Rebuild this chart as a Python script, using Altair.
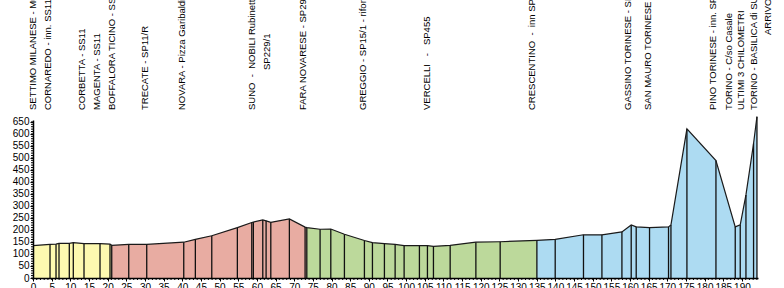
import altair as alt
import pandas as pd

# Profile waypoints (km, altitude m)
km = [0, 4.56, 6.17, 6.97, 9.73, 10.80, 13.67, 17.96, 20.64, 21.10, 25.66, 30.48,
      40.40, 43.51, 47.91, 54.77, 58.63, 59.06, 61.58, 62.47, 63.73, 68.71, 72.92,
      73.38, 76.94, 79.81, 83.46, 88.82, 90.97, 94.18, 97.05, 99.46, 103.56, 105.71,
      107.32, 111.80, 118.69, 125.20, 135.04, 139.95, 147.53, 152.47, 157.83, 160.32,
      161.66, 165.23, 170.32, 170.97, 175.25, 183.03, 188.20, 189.54, 191.07, 193.11,
      194.02]
elev = [135, 140, 141, 144, 144, 147, 143, 143, 141, 136, 140, 140,
        149, 161, 176, 210, 231, 233, 242, 238, 232, 246, 212,
        210, 203, 204, 182, 156, 147, 143, 140, 135, 135, 135,
        132, 136, 149, 151, 157, 161, 180, 180, 192, 221,
        213, 210, 213, 221, 621, 489, 213, 221, 346, 560,
        672]

seg_names = ["Lombardia", "Novara", "Vercelli", "Torino"]
seg_start = [0, 21.10, 73.38, 135.04]
seg_end = [21.10, 73.38, 135.04, 194.02]
seg_colors = ["#FDF9B0", "#E8ACA2", "#BCD99B", "#ADDBF2"]

NB = "\u00a0"
label_km = [0.0, 4.0, 13.1, 17.2, 21.2, 30.0, 39.9, 58.7, 72.4, 88.5, 105.6,
            133.8, 159.5, 164.9, 182.3, 186.6, 189.8, 193.2]
label_text = [
    "SETTIMO MILANESE - Municipio",
    "CORNAREDO - inn. SS11",
    "CORBETTA - SS11",
    "MAGENTA - SS11",
    "BOFFALORA TICINO - SS11",
    "TRECATE - SP11/R",
    "NOVARA - Pizza Garibaldi",
    "SUNO" + NB + " - " + NB + "NOBILI Rubinetterie",
    "FARA NOVARESE - SP299",
    "GREGGIO - SP15/1 - rifornimento",
    "VERCELLI" + NB * 2 + " - " + NB * 2 + "SP455",
    "CRESCENTINO" + NB + " - " + NB + "inn SP31bis",
    "GASSINO TORINESE - SP590",
    "SAN MAURO TORINESE - SP590",
    "PINO TORINESE - inn. SP10",
    "TORINO - C/so Casale",
    "ULTIMI 3 CHILOMETRI",
    "TORINO - BASILICA di SUPERGA",
]
label2_km = [62.7]
label2_text = ["SP229/1"]
label3_km = [197.1]
label3_text = ["ARRIVO"]

x_ticks = list(range(0, 195, 5))
x_minor = list(range(0, 195))
y_ticks = list(range(0, 651, 50))
y_minor = list(range(0, 651, 10))

W, H = 725, 158
FONT = "Liberation Sans"
LFONT = "Liberation Sans Narrow, Arial Narrow, Liberation Sans, sans-serif"

xscale = alt.Scale(domain=[0, 194.3], nice=False, zero=False)
yscale = alt.Scale(domain=[0, 658], nice=False, zero=False)
xaxis = alt.Axis(values=x_ticks, title=None, grid=False, labelOverlap=False,
                 labelFlush=False, tickSize=3, labelPadding=1, labelFontSize=10,
                 labelFont=FONT, labelColor="black", domainColor="black",
                 tickColor="black", domainWidth=1.5, zindex=2)
yaxis = alt.Axis(values=y_ticks, title=None, grid=False, labelOverlap=False,
                 labelFlush=False, tickSize=3, labelPadding=1, labelFontSize=10,
                 labelFont=FONT, labelColor="black", domainColor="black",
                 tickColor="black", domainWidth=1.5, zindex=2)

prof = pd.DataFrame({"km": km, "elev": elev})
rows = []
for name, s, e in zip(seg_names, seg_start, seg_end):
    for k, v in zip(km, elev):
        if s - 1e-9 <= k <= e + 1e-9:
            rows.append({"km": k, "elev": v, "seg": name})
area_df = pd.DataFrame(rows)

X = lambda f: alt.X(f, scale=xscale, axis=xaxis)
Y = lambda f: alt.Y(f, scale=yscale, axis=yaxis, stack=None)

area = alt.Chart(area_df).mark_area(opacity=1).encode(
    x=X("km:Q"), y=Y("elev:Q"),
    color=alt.Color("seg:N", scale=alt.Scale(domain=seg_names, range=seg_colors), legend=None),
)
vlines = alt.Chart(prof[prof["km"] > 0]).mark_rule(color="#111111", strokeWidth=1.3).encode(
    x=X("km:Q"), y=Y("elev:Q"), y2=alt.datum(0)
)
outline = alt.Chart(prof).mark_line(color="#1a1a1a", strokeWidth=1.2).encode(
    x=X("km:Q"), y=Y("elev:Q")
)
ymin = alt.Chart(pd.DataFrame({"v": y_minor})).mark_rule(color="black", strokeWidth=1).encode(
    y=Y("v:Q"), x=alt.value(-2), x2=alt.value(0)
)
xmin = alt.Chart(pd.DataFrame({"k": x_minor})).mark_rule(color="black", strokeWidth=1).encode(
    x=X("k:Q"), y=alt.value(H), y2=alt.value(H + 2)
)
lab_kw = dict(angle=270, align="left", baseline="middle", font=LFONT, fontSize=9.5, color="black")
labels = alt.Chart(pd.DataFrame({"k": label_km, "t": label_text})).mark_text(**lab_kw).encode(
    x=X("k:Q"), y=alt.value(-10), text="t:N"
)
labels2 = alt.Chart(pd.DataFrame({"k": label2_km, "t": label2_text})).mark_text(**lab_kw).encode(
    x=X("k:Q"), y=alt.value(-50), text="t:N"
)
labels3 = alt.Chart(pd.DataFrame({"k": label3_km, "t": label3_text})).mark_text(**lab_kw).encode(
    x=X("k:Q"), y=alt.value(-85), text="t:N"
)

chart = alt.layer(area, vlines, outline, ymin, xmin, labels, labels2, labels3).properties(
    width=W, height=H,
    autosize=alt.AutoSizeParams(type="none"),
    padding={"left": 33, "top": 120, "right": 26, "bottom": 10},
    background="white",
).configure_view(stroke=None)

chart.save("out.html", embed_options={"renderer": "svg", "actions": False})
